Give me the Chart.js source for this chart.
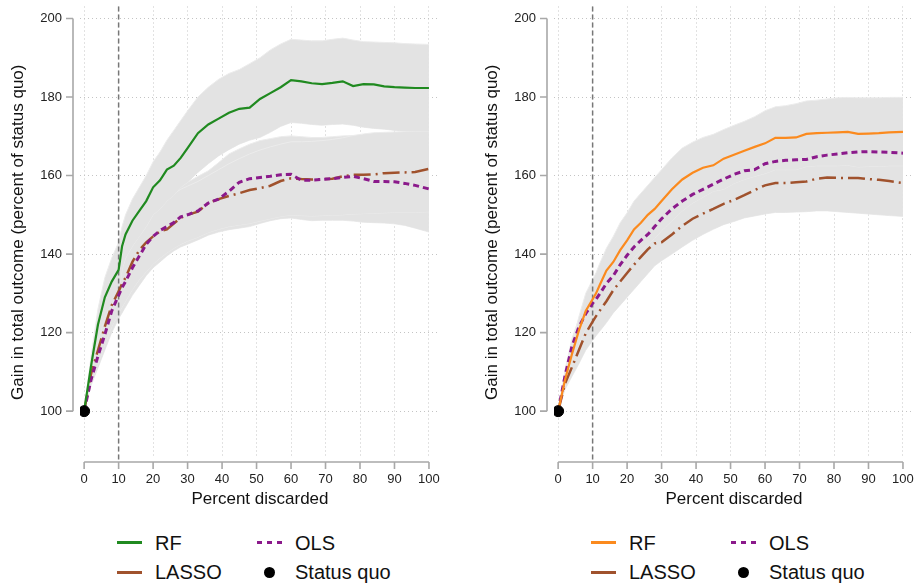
<!DOCTYPE html>
<html>
<head>
<meta charset="utf-8">
<script src="https://cdn.jsdelivr.net/npm/chart.js@4.4.1/dist/chart.umd.min.js"></script>
<style>
  html, body { margin: 0; padding: 0; background: #fff; overflow: hidden; width: 914px; height: 586px; }
  .panel { position: absolute; top: 0; width: 457px; height: 586px; }
  .panel canvas { position: absolute; left: 0; top: 0; }
  .sym { position: absolute; width: 25px; }
  .lbl { position: absolute; font: 20px "Liberation Sans", Arial, sans-serif; line-height: 24px; color: #111; white-space: nowrap; }
  .dot { position: absolute; width: 11px; height: 11px; border-radius: 50%; background: #000; }
</style>
</head>
<body>
<div class="panel" style="left:0px">
  <canvas id="left" width="457" height="514"></canvas>
  <div class="sym" style="left:117px;top:541px;height:2.5px;background:#208a20"></div>
  <div class="lbl" style="left:155px;top:531px">RF</div>
  <div class="sym" style="left:257px;top:541px;height:3px;background:repeating-linear-gradient(90deg,#8b1a8b 0 5px,transparent 5px 10px)"></div>
  <div class="lbl" style="left:295px;top:531px">OLS</div>
  <div class="sym" style="left:117px;top:571px;height:2.5px;background:#a0522d"></div>
  <div class="lbl" style="left:155px;top:560px">LASSO</div>
  <div class="dot" style="left:264px;top:567px"></div>
  <div class="lbl" style="left:295px;top:560px">Status quo</div>
</div>
<div class="panel" style="left:474px">
  <canvas id="right" width="457" height="514"></canvas>
  <div class="sym" style="left:117px;top:541px;height:2.5px;background:#fb8a1e"></div>
  <div class="lbl" style="left:155px;top:531px">RF</div>
  <div class="sym" style="left:257px;top:541px;height:3px;background:repeating-linear-gradient(90deg,#8b1a8b 0 5px,transparent 5px 10px)"></div>
  <div class="lbl" style="left:295px;top:531px">OLS</div>
  <div class="sym" style="left:117px;top:571px;height:2.5px;background:#a0522d"></div>
  <div class="lbl" style="left:155px;top:560px">LASSO</div>
  <div class="dot" style="left:264px;top:567px"></div>
  <div class="lbl" style="left:295px;top:560px">Status quo</div>
</div>
<script>
// percent discarded (x positions of every series)
const xs = [0, 2, 4, 6, 8, 10, 11, 12, 14, 16, 18, 20, 22, 24, 26, 28, 30, 33, 36, 39,
  42, 45, 48, 51, 54, 57, 60, 63, 66, 69, 72, 75, 78, 81, 84, 87, 90, 93, 96, 100];
const xTicks = [0, 10, 20, 30, 40, 50, 60, 70, 80, 90, 100];
const yTicks = [100, 120, 140, 160, 180, 200];
const cutoff = 10;
const statusQuo = { x: 0, y: 100 };

// left panel
const leftRF = [100, 111.5, 122, 129, 133, 136, 142, 145, 148.5, 151, 153.5, 157, 158.8, 161.5, 162.5, 164.5, 167, 170.8, 173, 174.5,
  176, 177, 177.3, 179.5, 181, 182.5, 184.3, 184, 183.5, 183.3, 183.6, 184, 182.8, 183.3, 183.2, 182.7, 182.5, 182.4, 182.3, 182.3];
const leftRFHi = [100, 114, 126, 134, 139, 143, 147, 150, 154, 157, 160, 163.5, 166, 169, 171.5, 174, 176.5, 180, 182.5, 184.5,
  186, 187, 188.5, 190, 192, 193.5, 194.7, 194.5, 194.3, 194.3, 194.7, 195, 194.5, 194.1, 194, 193.9, 193.8, 193.6, 193.5, 193.4];
const leftRFLo = [100, 109, 118, 124, 127.5, 130, 136, 139, 142, 144.5, 147, 150, 151.5, 153.5, 155, 157, 158.3, 160.8, 163, 165,
  166.6, 168, 169, 169.7, 171, 172.5, 173.5, 173.3, 173, 172.8, 173, 173.1, 172.8, 172.3, 172, 171.8, 171.5, 171.3, 171.2, 171.2];
const leftLASSO = [100, 109.5, 115.5, 121.5, 127, 130.5, 132.5, 134, 138, 141, 143, 144.5, 145.8, 146.3, 147.8, 149.2, 150, 150.8, 153, 154,
  154.8, 155.5, 156.3, 156.8, 157.4, 158.6, 159.3, 159.1, 159, 159.1, 159.2, 159.8, 160.2, 160.2, 160.3, 160.6, 160.7, 160.8, 160.9, 161.7];
const leftLASSOHi = [100, 110.5, 118.5, 125, 130.5, 135, 137, 139, 143, 146.5, 149.5, 151.5, 152.8, 154, 155.3, 156.5, 157.3, 158.5, 160, 161.5,
  163, 164.3, 165.5, 166.5, 167.3, 168, 168.6, 168.6, 168.7, 168.9, 169.2, 169.6, 170.2, 170.6, 170.9, 171, 171.1, 171.2, 171.2, 171.3];
const leftLASSOLo = [100, 107, 112, 117, 121.5, 125, 126.5, 128, 131, 133.5, 135.5, 137.5, 139, 140.3, 141.5, 142.5, 143.3, 144.3, 145.5, 146.3,
  147, 147.4, 147.8, 148.4, 149, 149.6, 149.9, 149.8, 149.7, 149.8, 149.9, 150, 150.2, 150.3, 150.4, 150.5, 150.6, 150.6, 150.6, 150.8];
const leftOLS = [100, 108, 114, 119.5, 125.5, 129.5, 131.5, 133, 136.5, 139.5, 142.5, 144.5, 146, 147, 148, 149.5, 150, 151, 153, 154,
  156, 158.3, 159.2, 159.5, 159.8, 160.2, 160.3, 158.8, 158.8, 159, 159.2, 159.5, 159.8, 159.2, 158.5, 158.5, 158.4, 158, 157.5, 156.6];
const leftOLSHi = [100, 109.5, 117, 123.5, 129.5, 134, 136, 138, 142, 145.5, 149, 151.5, 153, 154.5, 156, 157.3, 158.3, 159.8, 161.2, 163.3,
  165.5, 166.8, 168, 168.9, 169.4, 169.9, 170.1, 169.9, 169.7, 169.7, 169.9, 170.1, 170.2, 169.8, 169.4, 169.2, 169, 168.6, 168.2, 167.5];
const leftOLSLo = [100, 106.5, 111, 115.5, 120, 123.5, 125, 126.5, 129.5, 132, 134.5, 136.5, 138, 139.5, 140.8, 141.8, 142.5, 143.6, 144.8, 145.6,
  146.2, 146.6, 147, 147.8, 148.5, 149, 149.2, 148.8, 148.5, 148.6, 148.6, 148.6, 148.4, 148.1, 148, 147.9, 147.7, 147.3, 146.6, 145.6];

// right panel
const rightRF = [100, 108, 114.5, 120.5, 125.5, 128.5, 130, 132, 135.8, 138, 141, 143.5, 146.3, 148, 150, 151.5, 153.5, 156.5, 159, 160.7,
  162, 162.6, 164.3, 165.3, 166.3, 167.3, 168.2, 169.6, 169.6, 169.7, 170.6, 170.8, 170.9, 171, 171.1, 170.6, 170.7, 170.8, 171, 171.1];
const rightRFHi = [100, 109.5, 117, 124, 130, 133.5, 135.3, 137.5, 141.5, 144.5, 148, 150.5, 153.5, 155.5, 157.5, 159.5, 161.5, 164.5, 167, 168.5,
  169.7, 170.5, 171.7, 172.8, 173.8, 175, 176.5, 177.5, 177.8, 178.3, 179, 179.2, 179.5, 179.8, 179.9, 179.8, 179.8, 179.8, 179.9, 179.9];
const rightRFLo = [100, 106.5, 112, 117, 121, 123.5, 124.8, 126.5, 130, 131.8, 134, 136.5, 139, 141, 142.5, 144, 146, 148.5, 151, 153,
  154.5, 156, 156.5, 158, 159, 159.8, 160.5, 161.5, 161.5, 161.5, 162.3, 162.5, 162.5, 162.5, 162.6, 162.2, 162.3, 162.3, 162.5, 162.5];
const rightLASSO = [100, 107, 111.2, 115.5, 119.8, 122.8, 124.2, 125.5, 128, 130.8, 133, 135.2, 137.3, 139.3, 141.2, 142.7, 143, 145, 147.2, 149,
  150.3, 151.5, 152.8, 153.8, 155, 156.3, 157.5, 158.1, 158.1, 158.3, 158.5, 159.2, 159.5, 159.4, 159.4, 159.4, 159.1, 158.9, 158.6, 158.1];
const rightLASSOHi = [100, 108.5, 113.5, 119, 124, 127.5, 129.2, 130.7, 133.5, 136.6, 139, 141.4, 143.6, 145.6, 147.4, 148.4, 149, 151.3, 153.7, 155.8,
  157.3, 158.8, 160.4, 161.6, 163, 164.4, 165.7, 166.4, 166.5, 166.8, 167.1, 167.9, 168.2, 168.2, 168.3, 168.4, 168.2, 168.1, 167.9, 167.5];
const rightLASSOLo = [100, 105.5, 108.8, 112, 115.5, 118, 119.2, 120.3, 122.5, 125, 127, 129, 131, 133, 135, 137, 138.3, 140, 141.8, 143.5,
  145, 146.3, 147.5, 148.3, 149.2, 149.7, 150.2, 150.6, 150.6, 150.7, 150.8, 151, 151, 150.8, 150.6, 150.4, 150.2, 150, 149.8, 149.6];
const rightOLS = [100, 109, 116.5, 121.4, 124.8, 127.5, 128.5, 129.8, 132.5, 134.5, 137.3, 139.7, 141.8, 143.5, 145, 147, 149, 151.5, 153.5, 155.2,
  156.5, 157.8, 159.1, 160.3, 161.2, 161.5, 163, 163.6, 163.9, 164, 164.1, 164.8, 165.2, 165.5, 165.8, 166, 166.1, 166, 165.9, 165.7];
const rightOLSHi = [100, 110.5, 118.5, 123.5, 127.2, 130.5, 131.7, 133.2, 136.3, 138.8, 142, 144.7, 147.2, 149.2, 151, 153.3, 155.5, 158.3, 160.6, 162.6,
  164.2, 165.8, 167.3, 168.7, 169.7, 170.1, 171.6, 172.3, 172.6, 172.7, 172.8, 173.5, 173.9, 174.2, 174.5, 174.7, 174.8, 174.7, 174.6, 174.4];
const rightOLSLo = [100, 107.5, 114.5, 119.3, 122.4, 124.5, 125.3, 126.4, 128.7, 130.2, 132.6, 134.7, 136.4, 137.8, 139, 140.7, 142.5, 144.7, 146.4, 147.8,
  148.8, 149.8, 150.9, 151.9, 152.7, 152.9, 154.3, 154.9, 155.2, 155.3, 155.4, 156.1, 156.5, 156.8, 157.1, 157.3, 157.4, 157.3, 157.2, 157];

const FONT = "'Liberation Sans', Arial, sans-serif";
const BAND = "#e3e3e3";
const BAND_EDGE = "#ececec";
const pts = ys => xs.map((x, i) => ({ x, y: ys[i] }));

// stata-like axes: lines and ticks offset from the plot region
const axesPlugin = {
  id: "stataAxes",
  afterDatasetDraw(chart, args) {
    if (args.index !== 0) return;
    const { ctx, chartArea, scales: { x } } = chart;
    const px = x.getPixelForValue(cutoff);
    ctx.save();
    ctx.strokeStyle = "#777";
    ctx.lineWidth = 1.5;
    ctx.setLineDash([5, 3]);
    ctx.beginPath();
    ctx.moveTo(px, chartArea.top);
    ctx.lineTo(px, chartArea.bottom + 3);
    ctx.stroke();
    ctx.restore();
  },
  afterDraw(chart) {
    const { ctx, chartArea, scales: { x, y } } = chart;
    ctx.save();
    ctx.strokeStyle = "#a8a8a8";
    ctx.lineWidth = 1.6;
    ctx.beginPath();
    const ax = chartArea.left - 7;
    ctx.moveTo(ax, y.getPixelForValue(yTicks[0]));
    ctx.lineTo(ax, y.getPixelForValue(yTicks[yTicks.length - 1]));
    yTicks.forEach(v => {
      const py = y.getPixelForValue(v);
      ctx.moveTo(ax - 7, py);
      ctx.lineTo(ax, py);
    });
    const ay = chartArea.bottom + 4;
    ctx.moveTo(x.getPixelForValue(xTicks[0]), ay);
    ctx.lineTo(x.getPixelForValue(xTicks[xTicks.length - 1]), ay);
    xTicks.forEach(v => {
      const px = x.getPixelForValue(v);
      ctx.moveTo(px, ay);
      ctx.lineTo(px, ay + 7);
    });
    ctx.stroke();
    ctx.restore();
  }
};

function band(hi, lo) {
  return [
    { data: pts(hi), fill: "+1", backgroundColor: BAND, borderColor: BAND_EDGE, borderWidth: 1, pointRadius: 0, order: 10 },
    { data: pts(lo), fill: false, borderColor: BAND_EDGE, borderWidth: 1, pointRadius: 0, order: 10 }
  ];
}

function drawPanel(id, s) {
  new Chart(document.getElementById(id), {
    type: "line",
    data: {
      datasets: [
        ...band(s.rfHi, s.rfLo),
        ...band(s.lassoHi, s.lassoLo),
        ...band(s.olsHi, s.olsLo),
        { label: "RF", data: pts(s.rf), borderColor: s.rfColor, borderWidth: 2.2, pointRadius: 0, fill: false, order: 1 },
        { label: "OLS", data: pts(s.ols), borderColor: "#8b1a8b", borderWidth: 3, borderDash: [6, 4], pointRadius: 0, fill: false, order: 2 },
        { label: "LASSO", data: pts(s.lasso), borderColor: "#a0522d", borderWidth: 2.5, borderDash: [17, 5, 2, 5], pointRadius: 0, fill: false, order: 3 },
        { label: "Status quo", type: "scatter", data: [statusQuo], backgroundColor: "#000", borderColor: "#000", pointRadius: 5.5, order: 0 }
      ]
    },
    options: {
      responsive: false,
      animation: false,
      devicePixelRatio: 1,
      layout: { padding: { top: 5, right: 17, left: 0, bottom: 0 } },
      plugins: { legend: { display: false }, tooltip: { enabled: false } },
      elements: { line: { tension: 0 } },
      scales: {
        x: {
          type: "linear", min: -1.2, max: 103.2,
          afterBuildTicks: sc => { sc.ticks = xTicks.map(v => ({ value: v })); },
          afterFit: sc => { sc.height = 56; sc.paddingLeft = 0; sc.paddingRight = 0; },
          grid: { color: "#c4c4c4", lineWidth: 1, drawTicks: false },
          border: { display: false, dash: [1, 3] },
          ticks: { padding: 14, color: "#222", font: { family: FONT, size: 13 }, maxRotation: 0 },
          title: { display: true, text: "Percent discarded", color: "#111", font: { family: FONT, size: 17 }, padding: { top: 4, bottom: 4 } }
        },
        y: {
          type: "linear", min: 88.07, max: 203.05,
          afterBuildTicks: sc => { sc.ticks = yTicks.map(v => ({ value: v })); },
          afterFit: sc => { sc.width = 80; sc.paddingTop = 0; sc.paddingBottom = 0; },
          grid: { color: "#c4c4c4", lineWidth: 1, drawTicks: false },
          border: { display: false, dash: [1, 3] },
          ticks: { padding: 18, color: "#222", font: { family: FONT, size: 13 } },
          title: { display: true, text: "Gain in total outcome (percent of status quo)", color: "#111", font: { family: FONT, size: 17 }, padding: { top: 8, bottom: 4 } }
        }
      }
    },
    plugins: [axesPlugin]
  });
}

drawPanel("left", {
  rfColor: "#208a20",
  rf: leftRF, rfHi: leftRFHi, rfLo: leftRFLo,
  lasso: leftLASSO, lassoHi: leftLASSOHi, lassoLo: leftLASSOLo,
  ols: leftOLS, olsHi: leftOLSHi, olsLo: leftOLSLo
});
drawPanel("right", {
  rfColor: "#fb8a1e",
  rf: rightRF, rfHi: rightRFHi, rfLo: rightRFLo,
  lasso: rightLASSO, lassoHi: rightLASSOHi, lassoLo: rightLASSOLo,
  ols: rightOLS, olsHi: rightOLSHi, olsLo: rightOLSLo
});
</script>
</body>
</html>
